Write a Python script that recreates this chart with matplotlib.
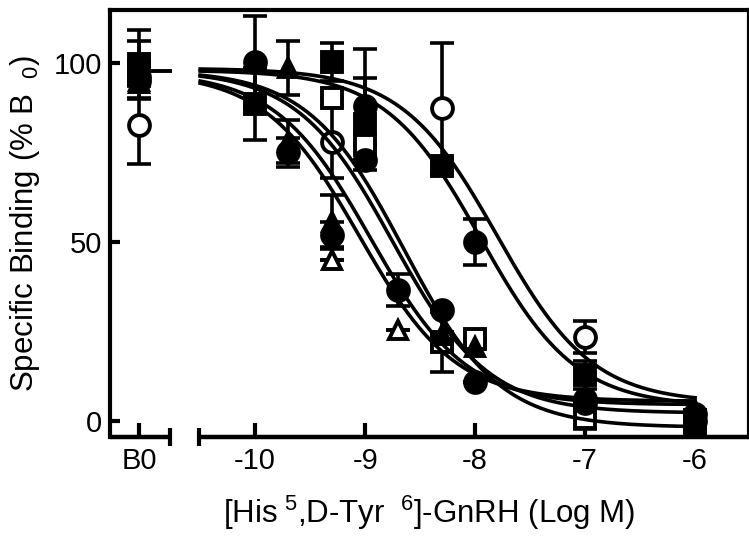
import numpy as np
import matplotlib
matplotlib.use("Agg")
import matplotlib.pyplot as plt
import matplotlib.transforms as mtransforms

plt.rcParams['font.family'] = ['Liberation Sans', 'DejaVu Sans']
plt.rcParams['mathtext.default'] = 'regular'

# x position used for the B0 (no competitor) column, left of the axis break
b0_x = -11.055
conc = [-10, -9.7, -9.3, -9, -8.7, -8.3, -8, -7, -6]
nan = np.nan

sq_f_b0, sq_f_b0_err = 99.7, 9.5
sq_f = [88.5, nan, 100.3, 83, nan, 71.3, nan, 12.8, 0.0]
sq_f_err = [10, nan, 5.3, 12.8, nan, 2, nan, 4, 1]

sq_o_b0, sq_o_b0_err = 98, 8
sq_o = [nan, nan, 90.2, 77, nan, 22, 23, 0.8, -1]
sq_o_err = [nan, nan, 0, 0, nan, 8.3, 0, 3, 0]

ci_o_b0, ci_o_b0_err = 82.7, 10.8
ci_o = [nan, nan, 78, nan, nan, 87.4, nan, 23.5, nan]
ci_o_err = [nan, nan, 10, nan, nan, 18.3, nan, 4.5, nan]

ci_f_b0, ci_f_b0_err = 96, 2
ci_f = [100.4, nan, nan, 88, nan, nan, 50, 6, 2]
ci_f_err = [12.8, nan, nan, 16, nan, nan, 6.5, 0, 0]

ci2_f_b0, ci2_f_b0_err = 95, 0
ci2_f = [nan, 75, 52, 73, 36.6, 31, 11, 5, 0]
ci2_f_err = [nan, 4, 3.5, 0, 4.5, 0, 0, 0, 0]

tr_f_b0, tr_f_b0_err = 94.5, 0
tr_f = [nan, 78, 55.6, nan, nan, 24, 20.7, 6, 3]
tr_f_err = [nan, 6, 7.5, nan, nan, 0, 0, 0, 0]

tr2_f = [nan, 98.6, nan, nan, nan, nan, nan, nan, nan]
tr2_f_err = [nan, 7.5, nan, nan, nan, nan, nan, nan, nan]

tr_o_b0, tr_o_b0_err = 95, 0
tr_o = [nan, nan, 45, nan, 25.5, nan, nan, nan, nan]
tr_o_err = [nan, nan, 0, nan, 0, nan, nan, nan, nan]

# fitted one-site competition curves: top, bottom, logIC50, hill
fit_top = [97.5, 97.5, 98, 98, 98, 98.5]
fit_bottom = [5.5, 4.5, 2.2, -1.8, 4, 5]
fit_logic50 = [-9.05, -8.95, -8.75, -8.65, -7.95, -7.8]
fit_hill = [1.0, 1.0, 1.0, 1.0, 1.0, 1.0]

b0_line = 97.8

fig = plt.figure(figsize=(7.49, 5.52), dpi=100)
ax = fig.add_axes([110 / 749, 1 - 437 / 552, 639 / 749, 427 / 552])
ax.set_xlim(-11.32, -5.51)
ax.set_ylim(-4.5, 114.8)

# (marker, b0 value, b0 err, values, errors, filled) in drawing order
series = [
    ('s', sq_o_b0, sq_o_b0_err, sq_o, sq_o_err, False),
    ('^', tr_o_b0, tr_o_b0_err, tr_o, tr_o_err, False),
    ('^', tr_f_b0, tr_f_b0_err, tr_f, tr_f_err, True),
    ('o', ci_f_b0, ci_f_b0_err, ci_f, ci_f_err, True),
    ('o', ci2_f_b0, ci2_f_b0_err, ci2_f, ci2_f_err, True),
    ('^', nan, nan, tr2_f, tr2_f_err, True),
    ('s', sq_f_b0, sq_f_b0_err, sq_f, sq_f_err, True),
    ('o', ci_o_b0, ci_o_b0_err, ci_o, ci_o_err, False),
]
for mk, b0v, b0e, vals, errs, filled in series:
    xs = [b0_x] + conc
    ys = [b0v] + vals
    es = [0 if np.isnan(e) else e for e in [b0e] + errs]
    size = 12.5 if mk == '^' else (14 if mk == 's' else 15)
    ax.errorbar(xs, ys, yerr=es, fmt='none', ecolor='black', elinewidth=2.6,
                capsize=8.5, capthick=2.6, zorder=2)
    ax.plot(xs, ys, linestyle='none', marker=mk, markersize=size,
            markerfacecolor='black' if filled else 'white',
            markeredgecolor='black', markeredgewidth=2.8, zorder=3)

ax.plot([b0_x, b0_x + 0.3], [b0_line, b0_line], color='black', lw=2.8,
        solid_capstyle='butt', zorder=3)

xx = np.linspace(-10.5, -6, 300)
for top, bot, ic, h in zip(fit_top, fit_bottom, fit_logic50, fit_hill):
    yy = bot + (top - bot) / (1 + 10 ** ((xx - ic) * h))
    ax.plot(xx, yy, color='black', lw=2.6, zorder=4)

# broken bottom axis
ax.spines['bottom'].set_visible(False)
for side in ['left', 'top', 'right']:
    ax.spines[side].set_linewidth(3)
trans = mtransforms.blended_transform_factory(ax.transData, ax.transAxes)
ax.plot([-11.32, -10.77], [0, 0], color='black', lw=3.2, transform=trans,
        clip_on=False, solid_capstyle='butt', zorder=5)
ax.plot([-10.51, -5.51], [0, 0], color='black', lw=3.2, transform=trans,
        clip_on=False, solid_capstyle='butt', zorder=5)
ax.plot([-10.77, -10.51], [0, 0], linestyle='none', marker='|', markersize=13,
        markeredgewidth=3, color='black', transform=trans, clip_on=False, zorder=5)

ax.set_xticks([b0_x, -10, -9, -8, -7, -6])
ax.set_xticklabels(['B0', '-10', '-9', '-8', '-7', '-6'])
ax.set_yticks([0, 50, 100])
ax.tick_params(axis='x', direction='in', length=10, width=3, labelsize=21, pad=7)
ax.tick_params(axis='y', direction='in', length=7.5, width=3, labelsize=21, pad=6)

ax.set_xlabel('[His$^{\\ 5}$,D-Tyr $^{\\ 6}$]-GnRH (Log M)', fontsize=22.5, labelpad=14)
ax.set_ylabel('Specific Binding (% B$_{\\ \\ 0}$)', fontsize=22.5, labelpad=8)

fig.savefig('out.png', dpi=100)
